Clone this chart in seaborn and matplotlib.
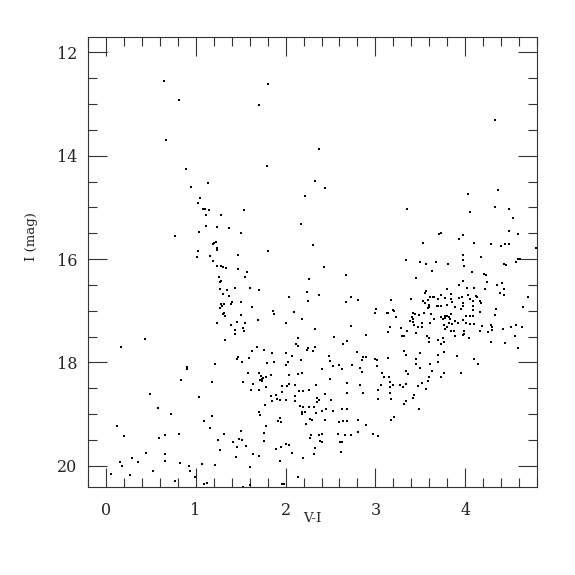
import pandas as pd
import matplotlib
matplotlib.use("Agg")
import matplotlib.pyplot as plt
import seaborn as sns
from matplotlib.ticker import MultipleLocator

# =====================
# Data: (V-I, I)
# =====================

# bright stars above the main sequences
stars_bright = [(0.65, 12.56), (0.82, 12.92), (0.67, 13.69), (0.89, 14.26), (1.14, 14.53),
                (1.80, 12.61), (1.71, 13.02), (2.37, 13.86), (1.79, 14.19), (2.33, 14.48),
                (4.33, 13.31)]

# blue branch, upper part
stars_blue_upper = [(0.95, 14.61), (1.05, 14.81), (1.03, 14.92), (1.08, 15.03), (1.11, 15.02),
                    (1.15, 15.04), (1.12, 15.15), (1.28, 15.15), (1.12, 15.35), (1.24, 15.37),
                    (1.37, 15.40), (1.04, 15.48), (0.77, 15.55), (1.19, 15.70), (1.21, 15.68),
                    (1.23, 15.66), (1.24, 15.79), (1.24, 15.83), (1.03, 15.85), (1.01, 15.95),
                    (1.16, 15.93), (1.47, 15.92), (1.19, 16.03), (1.24, 16.14), (1.28, 16.14),
                    (1.31, 16.15), (1.34, 16.17), (1.47, 16.19), (1.26, 16.35), (1.28, 16.42),
                    (1.27, 16.45), (1.27, 16.57), (1.35, 16.59), (1.44, 16.55), (1.30, 16.68),
                    (1.37, 16.72), (1.28, 16.86), (1.32, 16.86), (1.29, 16.90), (1.39, 16.86),
                    (1.41, 16.83), (1.27, 16.95), (1.32, 17.04), (1.30, 17.07), (1.33, 17.10),
                    (1.24, 17.24), (1.39, 17.27), (1.46, 17.22)]

# middle field, upper part
stars_mid_upper = [(2.44, 14.62), (2.22, 14.77), (1.54, 15.04), (2.17, 15.32), (1.51, 15.50),
                   (2.31, 15.73), (1.81, 15.84), (1.57, 16.24), (2.43, 16.15), (1.55, 16.35),
                   (2.26, 16.38), (2.67, 16.31), (1.61, 16.55), (1.71, 16.59), (2.24, 16.64),
                   (2.04, 16.73), (2.37, 16.70), (2.25, 16.81), (2.73, 16.74), (2.81, 16.79),
                   (2.67, 16.83), (1.51, 16.83), (1.63, 16.93), (1.86, 17.01), (1.87, 17.07),
                   (2.09, 17.02), (1.50, 17.08), (2.18, 17.15), (1.69, 17.17), (3.01, 16.97),
                   (2.99, 17.04), (3.13, 17.04), (1.55, 17.24), (2.00, 17.24), (2.33, 17.35),
                   (1.53, 17.33), (2.73, 17.30)]

# red giant branch, upper part
stars_red_upper = [(4.36, 14.66), (4.03, 14.73), (3.35, 15.02), (4.33, 14.99), (4.49, 15.02),
                   (4.05, 15.08), (4.53, 15.21), (4.48, 15.46), (4.59, 15.52), (3.71, 15.51),
                   (3.73, 15.49), (3.97, 15.54), (3.93, 15.61), (3.53, 15.69), (4.10, 15.69),
                   (4.28, 15.71), (4.44, 15.70), (4.49, 15.71), (4.40, 15.75), (4.79, 15.78),
                   (3.97, 15.91), (3.97, 16.01), (4.17, 15.96), (3.34, 16.02), (3.49, 16.06),
                   (3.56, 16.10), (3.67, 16.05), (3.81, 16.10), (3.99, 16.13), (4.43, 16.09),
                   (4.45, 16.12), (4.56, 16.05), (4.59, 16.00), (4.61, 15.99), (3.63, 16.22),
                   (4.07, 16.25), (4.21, 16.29), (4.23, 16.30), (3.45, 16.37), (3.97, 16.43),
                   (3.93, 16.50), (4.24, 16.44), (4.35, 16.50), (4.41, 16.46), (3.80, 16.57),
                   (4.02, 16.55), (4.10, 16.56), (4.22, 16.57), (4.43, 16.58), (3.56, 16.62),
                   (3.55, 16.66), (4.38, 16.66), (4.43, 16.70), (3.61, 16.73), (3.64, 16.74),
                   (3.65, 16.73), (3.73, 16.70), (3.84, 16.67), (4.03, 16.70), (4.12, 16.71),
                   (4.13, 16.73), (4.70, 16.74), (3.17, 16.80), (3.39, 16.77), (3.53, 16.81),
                   (3.55, 16.84), (3.58, 16.80), (3.70, 16.78), (3.77, 16.76), (3.84, 16.77),
                   (3.85, 16.82), (3.93, 16.76), (3.96, 16.73), (4.05, 16.77), (4.09, 16.81),
                   (4.16, 16.81), (4.17, 16.84), (3.60, 16.88), (3.97, 16.85), (3.97, 16.90),
                   (3.59, 16.92), (3.68, 16.91), (3.70, 16.91), (3.73, 16.91), (3.79, 16.88),
                   (3.88, 16.92), (3.58, 16.95), (4.09, 16.90), (4.64, 16.92), (3.95, 16.97),
                   (4.09, 16.99), (4.16, 17.03), (4.34, 16.96), (3.19, 16.99), (3.21, 17.00),
                   (3.14, 17.04), (3.23, 17.11), (3.42, 17.04), (3.44, 17.06), (3.48, 17.09),
                   (3.54, 17.04), (3.62, 17.06), (3.41, 17.11), (3.42, 17.15), (3.38, 17.19),
                   (3.73, 17.12), (3.77, 17.10), (3.80, 17.10), (3.82, 17.11), (3.77, 17.13),
                   (3.75, 17.15), (3.84, 17.07), (3.65, 17.16), (3.83, 17.15), (4.01, 17.10),
                   (4.05, 17.10), (4.08, 17.10), (4.33, 17.08), (3.88, 17.19), (3.97, 17.17),
                   (3.42, 17.22), (3.52, 17.24), (3.61, 17.24), (3.82, 17.23), (3.85, 17.26),
                   (3.92, 17.24), (4.01, 17.24), (4.05, 17.26), (4.10, 17.25), (3.43, 17.28),
                   (3.47, 17.31), (3.52, 17.32), (3.76, 17.28), (3.79, 17.31), (3.16, 17.32),
                   (3.28, 17.33), (4.18, 17.30), (4.29, 17.28), (4.30, 17.31), (4.42, 17.35),
                   (4.51, 17.32), (4.56, 17.28), (4.63, 17.31), (3.77, 17.36)]

# blue side, faint part
stars_blue_lower = [(1.44, 17.38), (1.44, 17.44), (0.17, 17.70), (0.44, 17.55), (1.33, 17.57),
                    (1.47, 17.90), (1.46, 17.93), (1.22, 18.02), (0.90, 18.09), (0.90, 18.13),
                    (0.84, 18.33), (1.18, 18.38), (0.49, 18.61), (1.04, 18.66), (0.58, 18.88),
                    (0.73, 19.00), (1.18, 19.03), (1.09, 19.14), (0.13, 19.23), (1.16, 19.26),
                    (0.20, 19.43), (0.59, 19.46), (0.66, 19.40), (0.81, 19.39), (1.32, 19.38),
                    (1.25, 19.50), (1.42, 19.53), (1.48, 19.48), (1.46, 19.64), (1.27, 19.69),
                    (0.45, 19.75), (0.66, 19.77), (1.45, 19.82), (0.29, 19.84), (0.36, 19.92),
                    (0.16, 19.92), (0.66, 19.90), (0.18, 20.00), (0.83, 19.94), (1.07, 19.97),
                    (1.22, 19.99), (0.93, 20.01), (0.06, 20.15), (0.27, 20.18), (0.53, 20.10),
                    (0.94, 20.10), (0.99, 20.21), (0.77, 20.30), (1.09, 20.35), (1.13, 20.34)]

# middle field, faint part
stars_mid_lower = [(1.54, 17.39), (2.14, 17.52), (2.54, 17.50), (2.90, 17.46), (2.12, 17.64),
                   (2.14, 17.68), (2.25, 17.71), (2.24, 17.75), (2.31, 17.77), (2.33, 17.70),
                   (2.64, 17.64), (2.68, 17.59), (1.68, 17.70), (1.63, 17.77), (1.76, 17.76),
                   (1.85, 17.81), (2.00, 17.81), (1.59, 17.91), (1.52, 17.99), (1.79, 18.01),
                   (1.87, 18.00), (2.07, 17.88), (2.17, 17.95), (2.03, 18.00), (2.00, 18.05),
                   (2.48, 17.88), (2.49, 17.98), (2.53, 18.06), (2.59, 18.04), (2.63, 18.13),
                   (2.79, 17.79), (2.86, 17.90), (2.85, 17.96), (2.90, 17.90), (2.74, 18.04),
                   (2.83, 18.10), (2.85, 18.19), (2.99, 17.94), (3.02, 17.95), (3.02, 18.06),
                   (3.14, 17.92), (3.07, 18.21), (3.09, 18.29), (3.15, 18.28), (1.58, 18.21),
                   (1.71, 18.21), (1.73, 18.27), (1.74, 18.32), (1.75, 18.30), (1.72, 18.34),
                   (1.78, 18.28), (1.74, 18.35), (1.84, 18.24), (2.04, 18.24), (2.14, 18.23),
                   (2.18, 18.21), (2.40, 18.12), (2.49, 18.32), (1.53, 18.38), (1.64, 18.41),
                   (1.78, 18.48), (1.96, 18.46), (2.02, 18.46), (2.04, 18.42), (2.11, 18.44),
                   (1.62, 18.53), (1.71, 18.53), (1.96, 18.58), (2.15, 18.56), (2.19, 18.56),
                   (2.26, 18.53), (2.34, 18.44), (2.68, 18.39), (2.83, 18.44), (2.68, 18.59),
                   (2.86, 18.59), (3.03, 18.53), (3.06, 18.44), (3.16, 18.48), (2.44, 18.60),
                   (1.84, 18.64), (1.89, 18.62), (1.91, 18.70), (1.85, 18.75), (1.94, 18.72),
                   (2.00, 18.72), (2.10, 18.65), (2.10, 18.74), (2.35, 18.68), (2.37, 18.73),
                   (2.35, 18.77), (2.51, 18.73), (3.03, 18.71), (1.77, 18.82), (2.16, 18.84),
                   (2.19, 18.86), (2.26, 18.87), (2.32, 18.86), (2.18, 18.95), (2.22, 18.95),
                   (2.18, 18.99), (2.41, 18.93), (2.45, 18.90), (2.53, 18.93), (2.34, 18.97),
                   (2.63, 18.90), (2.68, 18.90), (1.70, 18.95), (1.72, 19.01), (1.94, 19.07),
                   (1.92, 19.14), (1.95, 19.16), (2.27, 19.10), (2.29, 19.11), (2.23, 19.19),
                   (2.44, 19.12), (2.60, 19.16), (2.64, 19.13), (2.68, 19.13), (2.81, 19.12),
                   (2.89, 19.20), (1.78, 19.22), (1.50, 19.33), (1.76, 19.36), (1.52, 19.50),
                   (1.76, 19.51), (1.56, 19.62), (2.28, 19.40), (2.27, 19.46), (2.37, 19.40),
                   (2.40, 19.39), (2.38, 19.52), (2.41, 19.53), (2.58, 19.39), (2.66, 19.41),
                   (2.73, 19.40), (2.81, 19.35), (2.97, 19.39), (3.03, 19.42), (2.61, 19.53),
                   (2.63, 19.53), (1.89, 19.68), (1.95, 19.64), (2.01, 19.58), (2.04, 19.59),
                   (2.33, 19.65), (2.07, 19.75), (2.32, 19.77), (2.62, 19.73), (1.64, 19.77),
                   (1.71, 19.81), (2.19, 19.84), (1.94, 19.90), (1.61, 20.03), (2.14, 20.21),
                   (1.96, 20.35), (1.98, 20.35), (1.53, 20.40), (1.60, 20.38)]

# red side, faint part
stars_red_lower = [(3.14, 17.41), (3.29, 17.48), (3.32, 17.48), (3.35, 17.40), (3.45, 17.43),
                   (3.57, 17.48), (3.59, 17.53), (3.59, 17.61), (3.69, 17.56), (3.75, 17.53),
                   (3.76, 17.61), (3.73, 17.64), (3.84, 17.39), (3.87, 17.39), (3.88, 17.48),
                   (3.99, 17.39), (3.99, 17.44), (3.97, 17.46), (4.04, 17.52), (4.16, 17.39),
                   (4.25, 17.41), (4.30, 17.38), (4.28, 17.60), (4.44, 17.62), (4.55, 17.48),
                   (4.59, 17.71), (3.32, 17.77), (3.34, 17.86), (3.50, 17.81), (3.45, 17.94),
                   (3.45, 18.03), (3.49, 18.11), (3.61, 18.03), (3.69, 17.86), (3.69, 17.99),
                   (3.76, 17.79), (3.91, 17.88), (4.10, 17.93), (4.14, 18.03), (3.34, 18.16),
                   (3.36, 18.23), (3.63, 18.17), (3.76, 18.21), (3.95, 18.21), (3.73, 18.29),
                   (3.59, 18.29), (3.58, 18.35), (3.52, 18.39), (3.47, 18.46), (3.16, 18.37),
                   (3.20, 18.43), (3.27, 18.43), (3.34, 18.41), (3.31, 18.48), (3.56, 18.51),
                   (3.16, 18.59), (3.43, 18.62), (3.42, 18.68), (3.17, 18.71), (3.34, 18.75),
                   (3.32, 18.81), (3.48, 18.90), (3.21, 19.06), (3.17, 19.12)]

groups = [stars_bright, stars_blue_upper, stars_mid_upper, stars_red_upper,
          stars_blue_lower, stars_mid_lower, stars_red_lower]
df = pd.DataFrame([p for g in groups for p in g], columns=["V-I", "I"])

# =====================
# Plot
# =====================
sns.set_theme(style="ticks")
plt.rcParams["font.family"] = ["DejaVu Serif"]

fig = plt.figure(figsize=(5.75, 5.75), dpi=100)
ax = fig.add_axes([0.1525, 0.153, 0.782, 0.7827])

sns.scatterplot(data=df, x="V-I", y="I", marker="s", s=3.5, color="black",
                linewidth=0, ax=ax, legend=False)

ax.set_xlim(-0.2, 4.8)
ax.set_ylim(20.41, 11.70)

ax.xaxis.set_major_locator(MultipleLocator(1))
ax.xaxis.set_minor_locator(MultipleLocator(0.2))
ax.yaxis.set_major_locator(MultipleLocator(2))
ax.yaxis.set_minor_locator(MultipleLocator(0.5))

ax.tick_params(which="both", direction="in", top=True, right=True,
               color="#333333", width=0.8)
ax.tick_params(which="major", length=13.5, labelsize=11.5)
ax.tick_params(which="minor", length=6.8)
ax.tick_params(axis="x", which="major", pad=10.5)
ax.tick_params(axis="y", which="major", pad=7.5)

for sp in ax.spines.values():
    sp.set_color("#333333")
    sp.set_linewidth(0.8)

ax.set_xlabel("V-I", fontsize=9.5, va="top")
ax.set_ylabel("I (mag)", fontsize=9.5)
ax.xaxis.set_label_coords(0.5, -0.055)
ax.yaxis.set_label_coords(-0.11, 0.556)

fig.savefig("out.png", dpi=100, facecolor="white")
